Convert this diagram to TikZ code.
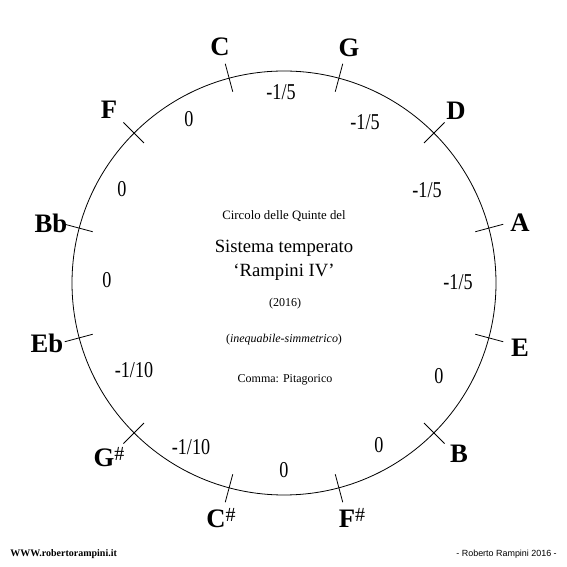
\documentclass[tikz,border=0pt]{standalone}
\usepackage{fontspec}
\setmainfont{Liberation Serif}
\newfontfamily\footfont{Liberation Sans}
\newfontfamily\commafont[FakeStretch=0.8]{Liberation Serif}
\usepackage{tikz}

\newcommand{\sharpsign}{\raisebox{4.5pt}{\fontsize{15}{15}\selectfont\mdseries\#}}

\begin{document}
\begin{tikzpicture}[x=0.75pt,y=0.75pt]
	 \tikzstyle{note}=[anchor=base,inner sep=0pt,font=\fontsize{20}{20}\selectfont\bfseries]
	 \tikzstyle{comma}=[anchor=base,inner sep=0pt,font=\commafont\fontsize{17}{17}\selectfont]
	 \tikzstyle{small}=[anchor=base,inner sep=0pt,font=\fontsize{9}{9}\selectfont]
	 \tikzstyle{big}=[anchor=base,inner sep=0pt,font=\fontsize{14}{14}\selectfont]
	 \tikzstyle{tick} = [draw,line width=0.6pt,-,black]
	 \useasboundingbox (0,0) rectangle (567,567);
	 \coordinate (c) at (284,284);
	 % circle of fifths
	 \draw[tick] (c) circle (212);
	 \draw[tick] (c) ++(105:198) -- ++(105:29);
	 \draw[tick] (c) ++(75:198) -- ++(75:29);
	 \draw[tick] (c) ++(45:198) -- ++(45:29);
	 \draw[tick] (c) ++(15:198) -- ++(15:29);
	 \draw[tick] (c) ++(-15:198) -- ++(-15:29);
	 \draw[tick] (c) ++(-45:198) -- ++(-45:29);
	 \draw[tick] (c) ++(-75:198) -- ++(-75:29);
	 \draw[tick] (c) ++(-105:198) -- ++(-105:29);
	 \draw[tick] (c) ++(-135:198) -- ++(-135:29);
	 \draw[tick] (c) ++(195:198) -- ++(195:29);
	 \draw[tick] (c) ++(165:198) -- ++(165:29);
	 \draw[tick] (c) ++(135:198) -- ++(135:29);
	 % notes
	 \node[note] (nC) at (220,511) {C};
	 \node[note] (nG) at (349,510) {G};
	 \node[note] (nD) at (456,447) {D};
	 \node[note] (nA) at (520,335) {A};
	 \node[note] (nE) at (520,210) {E};
	 \node[note] (nB) at (459,104) {B};
	 \node[note] (nFs) at (352,39) {F\sharpsign};
	 \node[note] (nCs) at (221,39) {C\sharpsign};
	 \node[note] (nGs) at (109,100) {G\sharpsign};
	 \node[note] (nEb) at (47,214) {Eb};
	 \node[note] (nBb) at (51,334) {Bb};
	 \node[note] (nF) at (109,448) {F};
	 % temperament of each fifth
	 \node[comma] (q1) at (281,467) {-1/5};
	 \node[comma] (q2) at (365,437) {-1/5};
	 \node[comma] (q3) at (427,369) {-1/5};
	 \node[comma] (q4) at (458,277) {-1/5};
	 \node[comma] (q5) at (439,183) {0};
	 \node[comma] (q6) at (379,114) {0};
	 \node[comma] (q7) at (284,89) {0};
	 \node[comma] (q8) at (191,112) {-1/10};
	 \node[comma] (q9) at (134,189) {-1/10};
	 \node[comma] (q10) at (107,279) {0};
	 \node[comma] (q11) at (122,370) {0};
	 \node[comma] (q12) at (189,440) {0};
	 % title
	 \node[small,font=\fontsize{9.6}{9.6}\selectfont] (t1) at (284,347) {Circolo delle Quinte del};
	 \node[big] (t2) at (284,314) {Sistema temperato};
	 \node[big] (t3) at (284,290) {`Rampini IV'};
	 \node[small] (t4) at (285,260) {(2016)};
	 \node[small] (t5) at (284,224) {(\textit{inequabile-simmetrico})};
	 \node[small] (t6) at (285,184) {Comma: Pitagorico};
	 % footer
	 \node[anchor=base west,inner sep=0pt,font=\fontsize{7.5}{7.5}\selectfont\bfseries] (web) at (10,10) {WWW.robertorampini.it};
	 \node[anchor=base east,inner sep=0pt,font=\footfont\fontsize{6.7}{6.7}\selectfont] (sig) at (557,10) {- Roberto Rampini 2016 -};
 \end{tikzpicture}
\end{document}
